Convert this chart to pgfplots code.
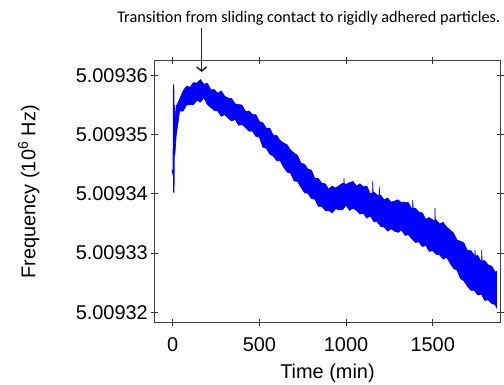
\documentclass[border=0pt]{standalone}
\usepackage{fontspec}
\setmainfont{Liberation Sans}
\newfontfamily\notefont{Carlito}
\usepackage{pgfplots}
\pgfplotsset{compat=1.18}
\usetikzlibrary{arrows.meta}

% Frequency is stored as offset in Hz from 5.0093 x 10^6 Hz
% (e.g. 60 -> 5.00936 x 10^6 Hz).

\begin{document}
\begin{tikzpicture}
\begin{axis}[
  scale only axis, width=346bp, height=262bp,
  xmin=-105, xmax=1891, ymin=18.24, ymax=62.5,
  xtick={0,500,1000,1500},
  ytick={20,30,40,50,60},
  yticklabels={5.00932,5.00933,5.00934,5.00935,5.00936},
  /pgf/number format/assume math mode=true,
  /pgf/number format/1000 sep={},
  tick align=center, major tick length=7bp,
  axis line style={black!75, line width=1bp},
  every tick/.style={black!80, line width=1bp},
  tick label style={font=\fontsize{20}{24}\selectfont},
  xticklabel style={anchor=north, inner sep=0pt, yshift=-11bp},
  yticklabel style={anchor=east, inner sep=0pt, xshift=-3bp},
  xlabel={Time (min)}, ylabel={Frequency (10\textsuperscript{6} Hz)},
  label style={font=\fontsize{20}{24}\selectfont},
  xlabel style={at={(axis description cs:0.5,-0.158)}, anchor=north, inner sep=0pt},
  ylabel style={at={(axis description cs:-0.395,0.5)}, anchor=north, inner sep=0pt},
  clip=false,
]
\coordinate (SW) at (rel axis cs:0,0);

% start-up transient
\addplot[blue, line width=1.1bp] coordinates {
  (-3,44.0) (0,43.6) (3,44.4) (5,58.5) (6,40.2) (7,57.6) (8,41.5)
  (9,55.0) (10,46.8) (12,52.0)
};

% measured band (upper edge forward, lower edge back)
\addplot[blue, fill=blue, line width=0.6bp] coordinates {
  (10,46.5) (12,52.0)
  (20,54.8) (40,56.0) (60,57.4) (80,58.2) (100,58.0) (120,58.8) (140,58.7)
  (160,59.3) (180,58.5) (200,58.7) (220,57.6) (240,57.6) (260,57.0) (280,57.4)
  (300,56.5) (320,56.2) (340,56.1) (360,55.2) (380,55.1) (400,55.0) (420,53.9)
  (440,54.0) (460,53.4) (480,53.4) (500,52.2) (520,52.0) (540,51.1) (560,51.1)
  (580,49.9) (600,49.9) (620,49.0) (640,48.6) (660,48.3) (680,47.4) (700,46.9)
  (720,46.5) (740,45.2) (760,45.0) (780,44.2) (800,44.0) (820,42.6) (840,42.6)
  (860,41.8) (880,41.7) (900,40.8) (920,41.3) (940,41.0) (960,41.4) (980,41.8)
  (987,41.7) (988,42.6) (990,41.7)
  (1000,41.6) (1020,41.9) (1040,42.1) (1060,41.3) (1080,41.7) (1100,41.2)
  (1120,41.3) (1140,40.0) (1153,40.2) (1154,42.1) (1156,40.2) (1160,40.3)
  (1180,39.8) (1191,39.7) (1192,41.2) (1194,39.6) (1200,39.8) (1220,39.0)
  (1240,39.3) (1260,38.6) (1280,38.8) (1300,39.0) (1320,38.5) (1340,38.6)
  (1360,38.5) (1380,37.4) (1384,37.6) (1385,39.0) (1387,37.6) (1400,37.6)
  (1420,36.9) (1440,36.8) (1460,35.7) (1480,36.0) (1500,35.6)
  (1512,35.5) (1513,37.6) (1515,35.4) (1520,35.6) (1540,34.9) (1560,35.2)
  (1580,34.4) (1600,33.9) (1620,33.4) (1640,32.2) (1660,32.0) (1680,31.7)
  (1700,30.4) (1720,30.4) (1740,29.6) (1743,29.6) (1744,30.5) (1746,29.5)
  (1760,29.6) (1780,28.5) (1782,28.8) (1783,30.5) (1785,28.7) (1800,28.7)
  (1820,28.0) (1840,27.8) (1860,26.8) (1868,26.9)
  (1868,20.8) (1860,21.3) (1840,21.5) (1820,22.1) (1800,22.0) (1780,23.1)
  (1760,22.9) (1740,23.7) (1720,23.7) (1700,24.4) (1680,25.3) (1660,25.7)
  (1640,27.1) (1620,27.4) (1600,28.3) (1580,29.3) (1560,29.0) (1540,29.7)
  (1520,29.8) (1500,30.4) (1480,30.3) (1460,31.3) (1440,31.1) (1420,31.9)
  (1400,31.8) (1380,32.4) (1360,33.1) (1340,33.0) (1320,33.9) (1300,33.5)
  (1280,33.7) (1260,34.1) (1240,33.7) (1220,34.4) (1200,34.5) (1180,35.3)
  (1160,35.3) (1140,36.3) (1120,35.9) (1100,36.7) (1080,36.6) (1060,37.2)
  (1040,37.6) (1020,37.2) (1000,38.1) (980,37.3) (960,37.3) (940,37.5)
  (920,36.8) (900,37.2) (880,37.2) (860,37.9) (840,37.9) (820,39.1)
  (800,39.2) (780,40.1) (760,40.2) (740,41.1) (720,42.1) (700,42.2)
  (680,43.5) (660,43.7) (640,44.5) (620,45.6) (600,45.6) (580,46.4)
  (560,46.7) (540,47.7) (520,47.9) (500,49.6) (480,49.7) (460,50.6)
  (440,50.6) (420,51.2) (400,51.7) (380,51.6) (360,52.6) (340,52.3)
  (320,52.8) (300,53.4) (280,53.1) (260,54.0) (240,54.1) (220,54.6)
  (200,55.1) (180,56.2) (160,55.5) (140,55.8) (120,55.1) (100,55.1)
  (80,55.0) (60,54.0) (40,54.0) (20,49.8) (12,46.5)
} -- cycle;

% annotation
\node[font=\notefont\fontsize{16.3}{18}\selectfont, anchor=base]
  at (axis cs:785,68.9) {Transition from sliding contact to rigidly adhered particles.};
\draw[-{Straight Barb[length=4bp,width=10bp]}, line width=1.5bp, black!85]
  (axis cs:167,68.0) -- (axis cs:167,60.6);
\end{axis}
\pgfresetboundingbox
\path (SW) ++(-154.5bp,-62.3bp) rectangle ++(504bp,385bp);
\end{tikzpicture}
\end{document}
